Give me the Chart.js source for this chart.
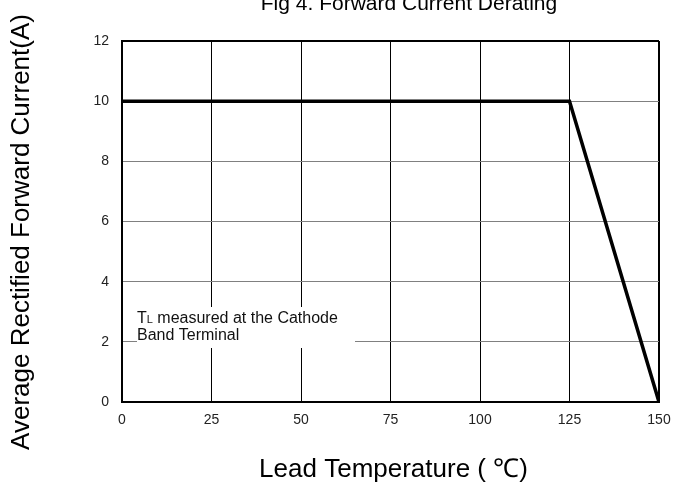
<!DOCTYPE html>
<html>
<head>
<meta charset="utf-8">
<script src="https://cdn.jsdelivr.net/npm/chart.js@4"></script>
<style>
  html, body { margin: 0; padding: 0; background: #fff; }
  #wrap { width: 694px; height: 490px; position: relative; }
</style>
</head>
<body>
<div id="wrap"><canvas id="c" width="694" height="490"></canvas></div>
<script>
// ---- data ----
const leadTemp = [0, 125, 150];
const forwardCurrent = [10, 10, 0];
const xTickValues = [0, 25, 50, 75, 100, 125, 150];
const yTickValues = [0, 2, 4, 6, 8, 10, 12];
const chartTitle = 'Fig 4. Forward Current Derating';
const xTitle = 'Lead Temperature ( \u2103)';
const yTitle = 'Average Rectified Forward Current(A)';
const noteLine1Main = 'T';
const noteLine1Sub = 'L';
const noteLine1Rest = ' measured at the Cathode';
const noteLine2 = 'Band Terminal';

const FONT = '"Liberation Sans", Arial, sans-serif';

const textPlugin = {
  id: 'texts',
  beforeDatasetsDraw(chart) {
    const ctx = chart.ctx;
    const a = chart.chartArea;
    // annotation box (covers grid lines)
    const bx = a.left + 15, by = 307, bw = 218, bh = 41;
    ctx.save();
    ctx.fillStyle = '#fff';
    ctx.fillRect(bx, by, bw, bh);
    ctx.fillStyle = '#111';
    ctx.textBaseline = 'alphabetic';
    ctx.textAlign = 'left';
    ctx.font = '16px ' + FONT;
    let x = bx;
    const y1 = by + 16;
    ctx.fillText(noteLine1Main, x, y1);
    x += ctx.measureText(noteLine1Main).width;
    ctx.font = '11px ' + FONT;
    ctx.fillText(noteLine1Sub, x, y1);
    x += ctx.measureText(noteLine1Sub).width;
    ctx.font = '16px ' + FONT;
    ctx.fillText(noteLine1Rest, x, y1);
    ctx.fillText(noteLine2, bx, y1 + 17);
    ctx.restore();
  },
  afterDraw(chart) {
    const ctx = chart.ctx;
    const a = chart.chartArea;
    ctx.save();
    ctx.fillStyle = '#000';
    ctx.textAlign = 'center';
    ctx.textBaseline = 'alphabetic';
    // main title (partly cut at top)
    ctx.font = '21px ' + FONT;
    ctx.fillText(chartTitle, 409, 10);
    // x axis title
    ctx.font = '26px ' + FONT;
    ctx.fillText(xTitle, (a.left + a.right) / 2 + 3, 477);
    // y axis title
    ctx.translate(29, 232);
    ctx.rotate(-Math.PI / 2);
    ctx.fillText(yTitle, 0, 0);
    ctx.restore();
  }
};

new Chart(document.getElementById('c'), {
  type: 'scatter',
  data: {
    datasets: [{
      data: leadTemp.map((t, i) => ({ x: t, y: forwardCurrent[i] })),
      showLine: true,
      borderColor: '#000',
      borderWidth: 3.5,
      pointRadius: 0,
      tension: 0,
      borderJoinStyle: 'miter',
      fill: false
    }]
  },
  options: {
    responsive: false,
    animation: false,
    devicePixelRatio: 1,
    layout: { padding: { top: 41, right: 35, bottom: 0, left: 0 } },
    plugins: { legend: { display: false }, tooltip: { enabled: false }, title: { display: false } },
    scales: {
      x: {
        type: 'linear',
        min: 0, max: 150,
        afterBuildTicks: s => { s.ticks = xTickValues.map(v => ({ value: v })); },
        afterFit: s => { s.height = 88; },
        ticks: { font: { size: 14, family: FONT }, color: '#222', padding: 10, maxRotation: 0 },
        grid: {
          drawTicks: false,
          color: '#000',
          lineWidth: c => (c.index === xTickValues.length - 1 ? 2 : 1)
        },
        border: { display: true, color: '#000', width: 2 }
      },
      y: {
        type: 'linear',
        min: 0, max: 12,
        afterBuildTicks: s => { s.ticks = yTickValues.map(v => ({ value: v })); },
        afterFit: s => { s.width = 122; },
        ticks: { font: { size: 14, family: FONT }, color: '#222', padding: 13 },
        grid: {
          drawTicks: false,
          color: c => (c.index === yTickValues.length - 1 ? '#000' : '#808080'),
          lineWidth: c => (c.index === yTickValues.length - 1 ? 2 : 1)
        },
        border: { display: true, color: '#000', width: 2 }
      }
    }
  },
  plugins: [textPlugin]
});
</script>
</body>
</html>
